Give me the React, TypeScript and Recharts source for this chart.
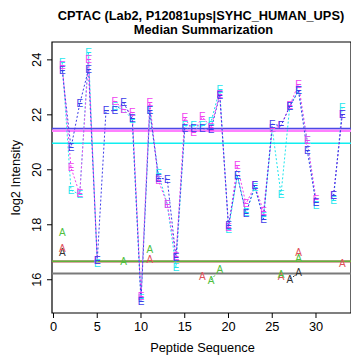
import React from "react";
import {
  ComposedChart,
  Line,
  XAxis,
  YAxis,
  ReferenceLine,
  ReferenceArea,
} from "recharts";

const peptides = [
  1, 2, 3, 4, 5, 6, 7, 8, 9, 10, 11, 12, 13, 14, 15, 16, 17, 18, 19, 20, 21,
  22, 23, 24, 25, 26, 27, 28, 29, 30, 31, 32, 33,
];

const blueE = [
  23.6, 20.8, 22.4, 23.65, 16.7, 22.15, 22.15, 22.45, 21.85, 15.2, 22.15,
  19.7, 19.66, 16.8, 21.5, 21.5, 21.5, 21.47, 22.7, 17.96, 19.8, 18.4, 19.42,
  18.2, 21.66, 21.6, 22.3, 22.87, 20.7, 18.8, null, 19.05, 22.0,
];
const magentaE = [
  23.8, 20.08, 19.12, 24.02, 16.7, null, 22.5, 22.2, 22.08, 15.4, 22.45, 19.6,
  18.75, 16.84, 21.9, 21.36, 21.93, 21.55, 22.75, 17.9, 20.15, 18.76, 19.42,
  18.5, 21.5, 21.6, 22.33, 23.12, 21.05, 18.93, null, 19.05, 22.03,
];
const cyanE = [
  23.9, 19.26, 19.1, 24.27, 16.6, null, 22.3, 22.2, 21.84, 15.3, 22.15, 19.85,
  18.75, 16.45, 21.6, 21.6, 21.6, 21.75, 22.93, 17.84, 19.8, 18.45, 19.35,
  18.3, 21.5, 19.1, 22.3, 22.9, 21.05, 18.7, null, 18.9, 22.27,
];
const greenA = [
  17.72, null, null, null, null, null, null, 16.67, null, null, 17.1, null,
  null, null, null, null, null, 15.99, 16.37, null, null, null, null, null,
  null, 16.18, null, 16.79, null, null, null, null, null,
];
const redA = [
  17.12, null, null, null, null, null, null, null, null, null, 16.72, null,
  null, null, null, null, 16.1, null, null, null, null, null, null, null, null,
  16.1, null, 16.99, null, null, null, null, 16.6,
];
const blackA = [
  17.0, null, null, null, null, null, null, null, null, null, null, null, null,
  null, null, null, null, null, null, null, null, null, null, null, null, null,
  16.02, 16.25, null, null, null, null, null,
];

const summaryBlue = 21.5;
const summaryMagenta = 21.42;
const summaryCyan = 20.97;
const summaryRed = 16.66;
const summaryGreen = 16.67;
const summaryBlack = 16.23;

const xTicks = [0, 5, 10, 15, 20, 25, 30];
const yTicks = [16, 18, 20, 22, 24];

const xDomain = [-0.171, 34.0];
const yDomain = [14.79, 24.65];

const data = peptides.map((p, i) => ({
  x: p,
  blue: blueE[i],
  magenta: magentaE[i],
  cyan: cyanE[i],
  greenA: greenA[i],
  redA: redA[i],
  blackA: blackA[i],
}));

const FONT = "'Liberation Sans', Arial, Helvetica, sans-serif";
const FS = 12.8;

const letterDot = (letter: string, color: string) => (props: any) => {
  const { cx, cy, value, index } = props;
  if (value === null || value === undefined || cx == null || cy == null)
    return <g key={`n-${letter}-${color}-${index}`} />;
  return (
    <text
      key={`d-${letter}-${color}-${index}`}
      x={cx}
      y={cy + 3.5}
      textAnchor="middle"
      fontSize={10}
      fontFamily={FONT}
      fill={color}
    >
      {letter}
    </text>
  );
};

const YTick = (props: any) => {
  const { x, y, payload } = props;
  const bx = x - 4;
  return (
    <text
      x={bx}
      y={y}
      transform={`rotate(-90, ${bx}, ${y})`}
      textAnchor="middle"
      fontSize={FS}
      fontFamily={FONT}
      fill="#000"
    >
      {payload.value}
    </text>
  );
};

const XTick = (props: any) => {
  const { x, y, payload } = props;
  return (
    <text
      x={x}
      y={y + 10.5}
      textAnchor="middle"
      fontSize={FS}
      fontFamily={FONT}
      fill="#000"
    >
      {payload.value}
    </text>
  );
};

const C_BLUE = "#3c3cea";
const C_MAG = "#f040f0";
const C_CYAN = "#1ee6ee";
const C_GREEN = "#50c040";
const C_RED = "#e0505a";
const C_BLACK = "#333333";

export default function App() {
  return (
    <div
      style={{
        position: "absolute",
        left: 0,
        top: 0,
        width: 351,
        height: 355,
        background: "#fff",
        overflow: "hidden",
      }}
    >
      <ComposedChart
        width={351}
        height={355}
        data={data}
        margin={{ top: 42, right: 0, bottom: 0, left: 0 }}
      >
        <XAxis
          dataKey="x"
          type="number"
          domain={xDomain}
          allowDataOverflow
          ticks={xTicks}
          height={42}
          tickSize={5}
          tickLine={{ stroke: "#000" }}
          axisLine={false}
          tick={<XTick />}
          interval={0}
        />
        <YAxis
          type="number"
          domain={yDomain}
          allowDataOverflow
          ticks={yTicks}
          width={52}
          tickSize={5}
          tickLine={{ stroke: "#000" }}
          axisLine={false}
          tick={<YTick />}
          interval={0}
        />
        <ReferenceLine y={summaryMagenta} stroke="#ff80ff" strokeWidth={2.5} ifOverflow="visible" />
        <ReferenceLine y={summaryBlue} stroke="#4a4ae6" strokeWidth={1.5} ifOverflow="visible" />
        <ReferenceLine y={summaryCyan} stroke="#10eef0" strokeWidth={1.5} ifOverflow="visible" />
        <ReferenceLine y={summaryRed} stroke="#b0504a" strokeWidth={2} ifOverflow="visible" />
        <ReferenceLine y={summaryGreen} stroke="#5fb23a" strokeWidth={1.5} ifOverflow="visible" />
        <ReferenceLine y={summaryBlack} stroke="#7a7a7a" strokeWidth={2} ifOverflow="visible" />
        <Line
          dataKey="cyan"
          stroke={C_CYAN}
          strokeWidth={1}
          strokeDasharray="2 2"
          dot={letterDot("E", C_CYAN)}
          activeDot={false}
          isAnimationActive={false}
          connectNulls={false}
        />
        <Line
          dataKey="magenta"
          stroke={C_MAG}
          strokeWidth={1}
          strokeDasharray="2 2"
          dot={letterDot("E", C_MAG)}
          activeDot={false}
          isAnimationActive={false}
          connectNulls={false}
        />
        <Line
          dataKey="blue"
          stroke={C_BLUE}
          strokeWidth={1}
          strokeDasharray="2 2"
          dot={letterDot("E", C_BLUE)}
          activeDot={false}
          isAnimationActive={false}
          connectNulls={false}
        />
        <Line
          dataKey="blackA"
          stroke={C_BLACK}
          strokeWidth={1}
          strokeDasharray="2 2"
          dot={letterDot("A", C_BLACK)}
          activeDot={false}
          isAnimationActive={false}
          connectNulls={false}
        />
        <Line
          dataKey="redA"
          stroke={C_RED}
          strokeWidth={1}
          strokeDasharray="2 2"
          dot={letterDot("A", C_RED)}
          activeDot={false}
          isAnimationActive={false}
          connectNulls={false}
        />
        <Line
          dataKey="greenA"
          stroke={C_GREEN}
          strokeWidth={1}
          strokeDasharray="2 2"
          dot={letterDot("A", C_GREEN)}
          activeDot={false}
          isAnimationActive={false}
          connectNulls={false}
        />
        <ReferenceArea
          x1={xDomain[0]}
          x2={xDomain[1]}
          y1={yDomain[0]}
          y2={yDomain[1]}
          fill="none"
          fillOpacity={0}
          stroke="#000"
          strokeWidth={1.2}
          ifOverflow="visible"
        />
      </ComposedChart>
      <svg
        width={351}
        height={355}
        style={{ position: "absolute", left: 0, top: 0, pointerEvents: "none" }}
      >
        <text x={201} y={19.5} textAnchor="middle" fontSize={FS} fontWeight="bold" fontFamily={FONT}>
          CPTAC (Lab2, P12081ups|SYHC_HUMAN_UPS)
        </text>
        <text x={203.5} y={34} textAnchor="middle" fontSize={FS} fontWeight="bold" fontFamily={FONT}>
          Median Summarization
        </text>
        <text x={202.5} y={351.5} textAnchor="middle" fontSize={FS} fontFamily={FONT}>
          Peptide Sequence
        </text>
        <text
          x={20}
          y={177.5}
          transform="rotate(-90, 20, 177.5)"
          textAnchor="middle"
          fontSize={FS}
          fontFamily={FONT}
        >
          log2 Intensity
        </text>
      </svg>
    </div>
  );
}
